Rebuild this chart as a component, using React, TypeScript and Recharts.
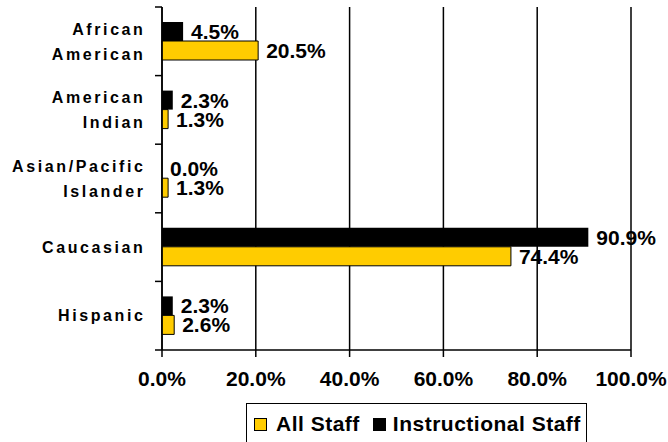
import { BarChart, Bar, XAxis, YAxis, CartesianGrid, LabelList } from 'recharts';

const categories = ['African American', 'American Indian', 'Asian/Pacific Islander', 'Caucasian', 'Hispanic'];
const allStaff = [20.5, 1.3, 1.3, 74.4, 2.6];
const instructionalStaff = [4.5, 2.3, 0.0, 90.9, 2.3];
const xTicks = [0, 20, 40, 60, 80, 100];

const pct = (v: any) => Number(v).toFixed(1) + '%';

const data = categories.map((name, i) => ({
  name,
  all: allStaff[i],
  instr: instructionalStaff[i],
  allLabel: pct(allStaff[i]),
  instrLabel: pct(instructionalStaff[i]),
}));

const W = 668;
const H = 442;
const MARGIN = { top: 7, right: 37, bottom: 52, left: 0 };
const X_AXIS_H = 40;
const Y_AXIS_W = 162;
const PLOT_H = H - MARGIN.top - MARGIN.bottom - X_AXIS_H;
const BAND = PLOT_H / categories.length;

const FONT = '"Liberation Sans", Arial, sans-serif';
const labelStyle = { fontFamily: FONT, fontWeight: 'bold', fontSize: 21 };

const CategoryTick = (props: any) => {
  const { x, y, payload, index } = props;
  const lines = String(payload.value).split(' ');
  const step = 25;
  const startY = y - ((lines.length - 1) * step) / 2;
  const axisX = Y_AXIS_W;
  return (
    <g>
      {/* separator ticks between categories */}
      <line x1={axisX - 7} x2={axisX} y1={y - BAND / 2} y2={y - BAND / 2} stroke="#000" strokeWidth={1.5} />
      {index === categories.length - 1 && (
        <line x1={axisX - 7} x2={axisX} y1={y + BAND / 2} y2={y + BAND / 2} stroke="#000" strokeWidth={1.5} />
      )}
      {lines.map((line, i) => (
        <text
          key={i}
          x={x + 2.5}
          y={startY + i * step}
          dy="0.36em"
          textAnchor="end"
          fontFamily={FONT}
          fontWeight="bold"
          fontSize={16}
          fill="#000"
          style={{ letterSpacing: '2.6px' }}
        >
          {line}
        </text>
      ))}
    </g>
  );
};

const LegendBox = () => (
  <div
    style={{
      position: 'absolute',
      left: 246,
      top: 403,
      borderTop: '1.5px solid #000',
      borderLeft: '1.5px solid #000',
      borderRight: '1.5px solid #000',
      boxSizing: 'border-box',
      width: 341,
      height: 39,
      paddingTop: 8,
      paddingLeft: 7,
      fontFamily: FONT,
      fontWeight: 'bold',
      fontSize: 21,
      lineHeight: '24px',
      letterSpacing: '0.5px',
      color: '#000',
    }}
  >
    <div style={{ display: 'flex', alignItems: 'center', height: 24 }}>
      <span style={{ display: 'inline-block', width: 11, height: 11, background: '#FFCC00', border: '1px solid #000' }} />
      <span style={{ marginLeft: 9 }}>All Staff</span>
      <span style={{ display: 'inline-block', width: 13, height: 13, background: '#000', marginLeft: 13 }} />
      <span style={{ marginLeft: 7 }}>Instructional Staff</span>
    </div>
  </div>
);

export default function App() {
  return (
    <div style={{ position: 'absolute', left: 0, top: 0, width: W, height: H, overflow: 'hidden', background: '#fff' }}>
      <BarChart width={W} height={H} data={data} layout="vertical" margin={MARGIN} barSize={19} barGap={0}>
        <CartesianGrid horizontal={false} vertical stroke="#000" strokeWidth={1.5} yAxisId="cat" />
        <XAxis
          type="number"
          domain={[0, 100]}
          ticks={xTicks}
          tickFormatter={pct}
          axisLine={{ stroke: '#000', strokeWidth: 1.5 }}
          tickLine={{ stroke: '#000', strokeWidth: 1.5 }}
          tickSize={7}
          tickMargin={14}
          height={X_AXIS_H}
          interval={0}
          tick={{ fill: '#000', fontFamily: FONT, fontWeight: 'bold', fontSize: 21 }}
        />
        <XAxis
          xAxisId="top"
          orientation="top"
          type="number"
          domain={[0, 100]}
          height={0}
          tick={false}
          tickLine={false}
          axisLine={{ stroke: '#808080', strokeWidth: 2 }}
        />
        <YAxis
          yAxisId="cat"
          type="category"
          dataKey="name"
          width={Y_AXIS_W}
          axisLine={{ stroke: '#000', strokeWidth: 1.5 }}
          tickLine={false}
          tickSize={6}
          tickMargin={13}
          interval={0}
          tick={<CategoryTick />}
        />
        <YAxis
          yAxisId="right"
          orientation="right"
          type="number"
          domain={[0, 1]}
          width={0}
          tick={false}
          tickLine={false}
          axisLine={{ stroke: '#808080', strokeWidth: 2 }}
        />
        <Bar
          dataKey="instr"
          name="Instructional Staff"
          yAxisId="cat"
          fill="#000"
          minPointSize={0.01}
          isAnimationActive={false}
        >
          <LabelList dataKey="instrLabel" position="right" offset={8} fill="#000" style={labelStyle} />
        </Bar>
        <Bar
          dataKey="all"
          name="All Staff"
          yAxisId="cat"
          fill="#FFCC00"
          stroke="#000"
          strokeWidth={1}
          isAnimationActive={false}
        >
          <LabelList dataKey="allLabel" position="right" offset={8} fill="#000" style={labelStyle} />
        </Bar>
      </BarChart>
      <LegendBox />
    </div>
  );
}
